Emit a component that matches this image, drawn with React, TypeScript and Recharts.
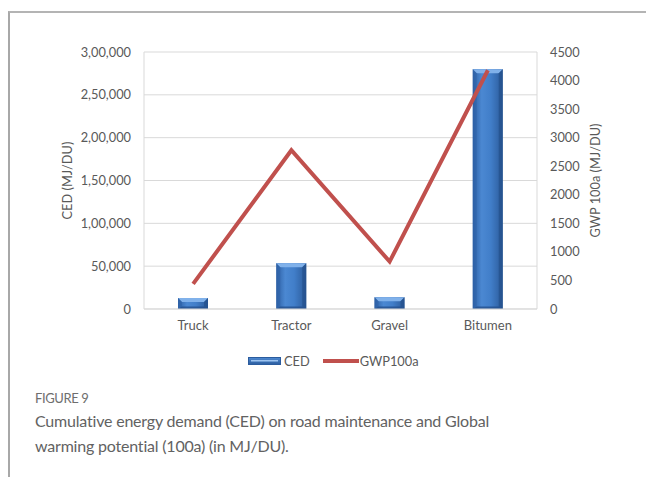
import React from "react";
import {
  ComposedChart,
  Bar,
  Line,
  XAxis,
  YAxis,
  CartesianGrid,
  Legend,
} from "recharts";

// Road maintenance inputs
const categories = ["Truck", "Tractor", "Gravel", "Bitumen"];
// Cumulative energy demand, MJ/DU (left axis)
const cedValues = [12800, 53500, 13800, 280000];
// Global warming potential 100a (right axis)
const gwpValues = [440, 2780, 830, 4180];

const cedTicks = [0, 50000, 100000, 150000, 200000, 250000, 300000];
const gwpTicks = [0, 500, 1000, 1500, 2000, 2500, 3000, 3500, 4000, 4500];

const data = categories.map((name, i) => ({
  name,
  CED: cedValues[i],
  GWP100a: gwpValues[i],
}));

// Indian digit grouping: 3,00,000 / 50,000
const formatIndian = (v: number): string => {
  const s = String(Math.round(v));
  if (s.length <= 3) return s;
  const last3 = s.slice(-3);
  let rest = s.slice(0, -3);
  const parts: string[] = [];
  while (rest.length > 2) {
    parts.unshift(rest.slice(-2));
    rest = rest.slice(0, -2);
  }
  if (rest) parts.unshift(rest);
  return parts.join(",") + "," + last3;
};

const FONT = "Lato, 'Open Sans', sans-serif";
const TICK = { fill: "#595959", fontSize: 12.8, fontFamily: FONT };
const GRID = "#d9d9d9";
const BLUE_DARK = "#2d5fa3";
const BLUE_MID = "#4b88d2";
const RED = "#c0504d";

// Bevelled column: horizontal shading plus a lighter top chamfer
const BevelBar = (props: any) => {
  const { x, y, width, height } = props;
  if (!height || height <= 0) return null;
  const b = Math.min(4, height / 2);
  const bb = Math.min(2.5, height / 3);
  return (
    <g>
      <rect x={x} y={y} width={width} height={height} fill="url(#barShade)" />
      <polygon
        points={`${x},${y} ${x + width},${y} ${x + width - b},${y + b} ${x + b},${y + b}`}
        fill="#80b1ea"
      />
      <polygon
        points={`${x},${y} ${x + b},${y + b} ${x + b},${y + height - bb} ${x},${y + height}`}
        fill="#2f63a8"
        opacity={0.6}
      />
      <polygon
        points={`${x + width},${y} ${x + width - b},${y + b} ${x + width - b},${y + height - bb} ${x + width},${y + height}`}
        fill="#24508c"
        opacity={0.7}
      />
      <polygon
        points={`${x},${y + height} ${x + b},${y + height - bb} ${x + width - b},${y + height - bb} ${x + width},${y + height}`}
        fill="#234f8c"
        opacity={0.8}
      />
    </g>
  );
};

const LegendContent = () => (
  <div
    style={{
      display: "flex",
      alignItems: "center",
      fontFamily: FONT,
      fontSize: 12.8,
      color: "#595959",
    }}
  >
    <svg width={33} height={10} style={{ marginRight: 3 }}>
      <rect x={0.5} y={1.5} width={32} height={7} fill="url(#legendShade)" stroke="#2b5c9e" />
      <rect x={3} y={4} width={27} height={1.5} fill="#9cc3f0" />
    </svg>
    <span>CED</span>
    <svg width={36} height={10} style={{ marginLeft: 13, marginRight: 1 }}>
      <line x1={0} y1={5} x2={36} y2={5} stroke={RED} strokeWidth={4} strokeLinecap="round" />
    </svg>
    <span>GWP100a</span>
  </div>
);

export default function App() {
  return (
    <div
      style={{
        position: "absolute",
        left: 0,
        top: 0,
        width: 646,
        height: 477,
        background: "#ffffff",
        overflow: "hidden",
      }}
    >
      {/* figure frame */}
      <div
        style={{
          position: "absolute",
          left: 8,
          top: 11,
          width: 640,
          height: 470,
          borderLeft: "2px solid #a8a8a8",
          borderTop: "2px solid #b4b4b4",
        }}
      />
      <div style={{ position: "absolute", left: 0, top: 0 }}>
        <ComposedChart
          width={646}
          height={477}
          data={data}
          margin={{ top: 52, right: 0, bottom: 138, left: 0 }}
        >
          <defs>
            <linearGradient id="barShade" x1="0" y1="0" x2="1" y2="0">
              <stop offset="0%" stopColor={BLUE_DARK} />
              <stop offset="30%" stopColor={BLUE_MID} />
              <stop offset="60%" stopColor="#417ec9" />
              <stop offset="100%" stopColor="#2b5a99" />
            </linearGradient>
            <linearGradient id="legendShade" x1="0" y1="0" x2="0" y2="1">
              <stop offset="0%" stopColor="#4f8ad2" />
              <stop offset="100%" stopColor="#2b5c9e" />
            </linearGradient>
          </defs>
          <CartesianGrid vertical={false} stroke={GRID} yAxisId="ced" />
          <XAxis
            dataKey="name"
            height={30}
            axisLine={{ stroke: GRID }}
            tickLine={false}
            tickSize={0}
            tickMargin={12}
            tick={{ ...TICK, fontSize: 13 }}
            interval={0}
          />
          <YAxis
            yAxisId="ced"
            orientation="left"
            width={144}
            domain={[0, 300000]}
            ticks={cedTicks}
            tickFormatter={formatIndian}
            axisLine={{ stroke: GRID }}
            tickLine={false}
            tickSize={0}
            tickMargin={13}
            tick={TICK}
            label={{
              value: "CED (MJ/DU)",
              angle: -90,
              position: "insideLeft",
              offset: 67,
              style: { textAnchor: "middle", fill: "#595959", fontSize: 12.8, fontFamily: FONT },
            }}
          />
          <YAxis
            yAxisId="gwp"
            orientation="right"
            width={109}
            domain={[0, 4500]}
            ticks={gwpTicks}
            axisLine={{ stroke: GRID }}
            tickLine={false}
            tickSize={0}
            tickMargin={13}
            tick={{ ...TICK, textAnchor: "start" }}
            label={{
              value: "GWP 100a (MJ/DU)",
              angle: -90,
              position: "insideRight",
              offset: 51,
              style: { textAnchor: "middle", fill: "#595959", fontSize: 12.8, fontFamily: FONT },
            }}
          />
          <Bar
            yAxisId="ced"
            dataKey="CED"
            barSize={30}
            shape={BevelBar}
            isAnimationActive={false}
          />
          <Line
            yAxisId="gwp"
            dataKey="GWP100a"
            stroke={RED}
            strokeWidth={4}
            dot={false}
            activeDot={false}
            strokeLinejoin="miter"
            isAnimationActive={false}
          />
          <Legend
            layout="horizontal"
            verticalAlign="middle"
            align="center"
            content={<LegendContent />}
            wrapperStyle={{ position: "absolute", left: 248, top: 353, width: "auto" }}
          />
        </ComposedChart>
      </div>
      <div
        style={{
          position: "absolute",
          left: 35,
          top: 390,
          fontFamily: "Lato, sans-serif",
          fontSize: 13,
          color: "#6e6e6e",
          letterSpacing: -0.4,
        }}
      >
        FIGURE 9
      </div>
      <div
        style={{
          position: "absolute",
          left: 35,
          top: 408,
          width: 600,
          fontFamily: "Lato, sans-serif",
          fontSize: 16,
          lineHeight: "25px",
          color: "#626262",
          letterSpacing: -0.2,
        }}
      >
        Cumulative energy demand (CED) on road maintenance and Global
        <br />
        warming potential (100a) (in MJ/DU).
      </div>
    </div>
  );
}
